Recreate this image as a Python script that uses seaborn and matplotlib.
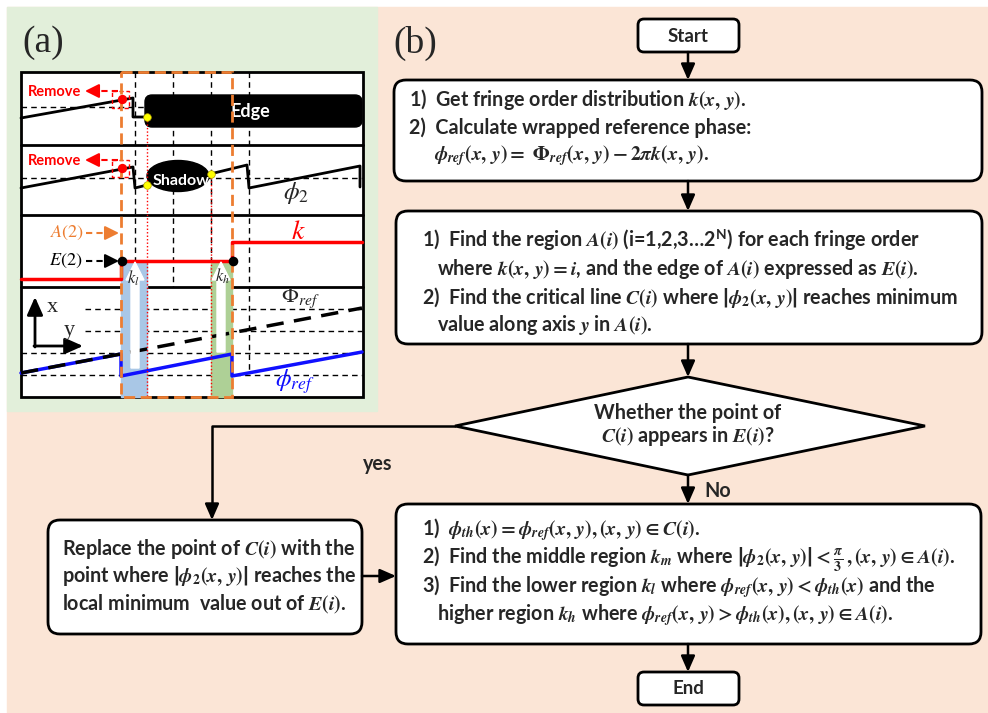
import numpy as np
import pandas as pd
import matplotlib.pyplot as plt
import matplotlib.patches as mpatches
import seaborn as sns

# ---------------- panel (a): schematic signals (pixel units of the figure) ----------------
frame_x = [21, 363]
frame_y = [72, 397]
row_sep = [145, 215, 287]
grid_cols = [135, 173, 211]
grid_col_long = 249
region_a2 = [121, 232]          # orange dashed A(2) region
crit_lines = [(147, 117), (211, 174)]   # red dotted lines C(i) and their start

# row 1: phase hitting the edge
edge_x = [21, 133, 133, 147]
edge_y = [118, 98, 117, 117]
# row 2: phase around the shadow
shadow_l_x = [21, 133, 135, 147]
shadow_l_y = [188, 167, 188, 185]
shadow_r_x = [210, 247, 249, 360, 360]
shadow_r_y = [174, 165, 188, 166, 187]
# row 3: fringe order k
k_x = [21, 121, 121, 232, 232, 362]
k_y = [279, 279, 261, 261, 242, 242]
# row 4: absolute and wrapped reference phase
Phi_x = [21, 362]
Phi_y = [373, 308]
phi_x = [21, 121, 121, 232, 232, 362]
phi_y = [373, 354, 376, 354, 376, 352]
row4_dash_y = [309, 331, 353, 375]
row4_dash_x0 = [85, 85, 21, 21]

# ---------------- panel (b): flowchart text ----------------
box1_lines = [r"1)  Get fringe order distribution $k(x,\,y)$.",
              r"2)  Calculate wrapped reference phase:",
              r"$\phi_{ref}(x,\,y) =\ \Phi_{ref}(x,\,y) - 2\pi k(x,\,y)$."]
box2_lines = [r"1)  Find the region $A(i)$ (i=1,2,3…2$^{\mathsf{N}}$) for each fringe order",
              r"where $k(x,\,y) = i$, and the edge of $A(i)$ expressed as $E(i)$.",
              r"2)  Find the critical line $C(i)$ where $\left|\phi_2(x,\,y)\right|$ reaches minimum",
              r"value along axis $y$ in $A(i)$."]
box3_lines = [r"1)  $\phi_{th}(x) = \phi_{ref}(x,\,y), (x,\,y) \in C(i)$.",
              r"2)  Find the middle region $k_m$ where $\left|\phi_2(x,\,y)\right| < \frac{\pi}{3}\,, (x,\,y) \in A(i)$.",
              r"3)  Find the lower region $k_l$ where $\phi_{ref}(x,\,y) < \phi_{th}(x)$ and the",
              r"higher region $k_h$ where $\phi_{ref}(x,\,y) > \phi_{th}(x), (x,\,y) \in A(i)$."]
left_lines = [r"Replace the point of $C(i)$ with the",
              r"point where $\left|\phi_2(x,\,y)\right|$ reaches the",
              r"local minimum  value out of $E(i)$."]
diamond_lines = ["Whether the point of", r"$C(i)$ appears in $E(i)$?"]

sns.set_theme(style="white")
plt.rcParams['font.family'] = ['Lato', 'DejaVu Sans']
plt.rcParams['mathtext.fontset'] = 'custom'
plt.rcParams['mathtext.it'] = 'STIXGeneral:italic:bold'
plt.rcParams['mathtext.rm'] = 'STIXGeneral:bold'
plt.rcParams['mathtext.bf'] = 'STIXGeneral:bold'
plt.rcParams['mathtext.sf'] = 'Lato:bold'

GREEN_BG = '#e2efda'
PEACH_BG = '#fbe5d6'
ORANGE = '#ed7d31'
RED = '#ff0000'
BLUE = '#1010ff'

fig = plt.figure(figsize=(9.88, 7.13), dpi=100)
ax = fig.add_axes([0, 0, 1, 1])
ax.set_xlim(0, 988)
ax.set_ylim(713, 0)
ax.axis('off')

ax.add_patch(mpatches.Rectangle((7, 7), 981, 706, color=PEACH_BG, zorder=0))
ax.add_patch(mpatches.Rectangle((7, 7), 370, 404, color=GREEN_BG, zorder=0))

# ======== panel (a) ========
ax.text(22, 43, "(a)", family='Liberation Serif', fontsize=27, va='center', ha='left')
ax.add_patch(mpatches.Rectangle((frame_x[0], frame_y[0]), frame_x[1] - frame_x[0],
                                frame_y[1] - frame_y[0], facecolor='white',
                                edgecolor='black', lw=2, zorder=1))
for ys in row_sep:
    ax.plot(frame_x, [ys, ys], color='black', lw=2, zorder=2)

dash_kw = dict(color='black', lw=1, ls=(0, (4, 3)), zorder=2)
for xc in grid_cols:
    ax.plot([xc, xc], [frame_y[0], row_sep[2]], **dash_kw)
ax.plot([grid_col_long, grid_col_long], [frame_y[0], 372], **dash_kw)
ax.plot([21, 145], [107, 107], **dash_kw)
ax.plot([21, 362], [178, 178], **dash_kw)
for yd, x0 in zip(row4_dash_y, row4_dash_x0):
    ax.plot([x0, 362], [yd, yd], **dash_kw)

# k_l / k_h regions
ax.add_patch(mpatches.Rectangle((121, 262), 26, 135, color='#a9c7e6', zorder=3))
ax.add_patch(mpatches.Rectangle((211, 262), 21, 135, color='#aed096', zorder=3))

# signals
sig_kw = dict(ax=ax, sort=False, estimator=None, legend=False)
sns.lineplot(x=edge_x, y=edge_y, color='black', lw=2, zorder=5, **sig_kw)
sns.lineplot(x=shadow_l_x, y=shadow_l_y, color='black', lw=2, zorder=5, **sig_kw)
sns.lineplot(x=shadow_r_x, y=shadow_r_y, color='black', lw=2, zorder=5, **sig_kw)
sns.lineplot(x=k_x, y=k_y, color=RED, lw=2.5, zorder=5, **sig_kw)
sns.lineplot(x=phi_x, y=phi_y, color=BLUE, lw=2.5, zorder=5, **sig_kw)
sns.lineplot(x=Phi_x, y=Phi_y, color='black', lw=2.5, linestyle=(0, (5, 3)), zorder=6, **sig_kw)

# Edge block and shadow blob
ax.add_patch(mpatches.FancyBboxPatch((145, 95), 217, 32,
                                     boxstyle="round,pad=0,rounding_size=7",
                                     color='black', zorder=4))
ax.text(250, 112, "Edge", color='white', fontsize=13, fontweight='bold',
        ha='center', va='center', zorder=7)
ax.add_patch(mpatches.Ellipse((178, 176), 62, 31, color='black', zorder=4))
ax.text(181, 181, "Shadow", color='white', fontsize=11.5, fontweight='bold',
        ha='center', va='center', zorder=7)

# red dotted critical lines
for xc, y0 in crit_lines:
    ax.plot([xc, xc], [y0, frame_y[1]], color=RED, lw=1, ls=(0, (1, 1.5)), zorder=6)

# orange A(2) region
ax.add_patch(mpatches.Rectangle((region_a2[0], frame_y[0]), region_a2[1] - region_a2[0],
                                frame_y[1] - frame_y[0], fill=False, edgecolor=ORANGE,
                                lw=2, ls=(0, (4, 2)), zorder=8))

# Remove markers
for yc, yt in [(99, 92), (168, 161)]:
    ax.add_patch(mpatches.Rectangle((112, yc - 8), 17, 17, fill=False, edgecolor=RED,
                                    lw=1, ls=(0, (3, 2)), zorder=7))
    ax.plot([118, 95], [yt - 1, yt - 1], color=RED, lw=1.5, ls=(0, (3, 2)), zorder=7)
    ax.annotate('', xy=(85, yt - 1), xytext=(97, yt - 1),
                arrowprops=dict(arrowstyle='-|>,head_length=0.7,head_width=0.35',
                                color=RED, lw=1.5, shrinkA=0, shrinkB=0), zorder=7)
    ax.text(28, yt, "Remove", color=RED, fontsize=10.5, fontweight='bold',
            ha='left', va='center', zorder=7)
ax.scatter([122, 122], [99, 168], s=45, color=RED, zorder=9, linewidths=0)
ax.scatter([147, 147, 211], [117, 185, 174], s=30, color='#ffff00',
           edgecolors='#b0a000', linewidths=0.5, zorder=9)

ax.text(296, 193, r"$\phi_2$", fontsize=18, math_fontfamily='stix', ha='center', va='center', zorder=7)

# A(2), E(2) annotations
ax.text(67, 233, r"$A(2)$", color=ORANGE, fontsize=13, math_fontfamily='stix',
        ha='center', va='center', zorder=7)
ax.plot([86, 110], [233, 233], color=ORANGE, lw=1.5, ls=(0, (3, 2)), zorder=7)
ax.annotate('', xy=(119, 233), xytext=(108, 233),
            arrowprops=dict(arrowstyle='-|>,head_length=0.7,head_width=0.35',
                            color=ORANGE, lw=1.5, shrinkA=0, shrinkB=0), zorder=7)
ax.text(66, 261, r"$E(2)$", color='black', fontsize=13, math_fontfamily='stix',
        ha='center', va='center', zorder=7)
ax.plot([86, 110], [261, 261], color='black', lw=1.5, ls=(0, (3, 2)), zorder=7)
ax.annotate('', xy=(119, 261), xytext=(108, 261),
            arrowprops=dict(arrowstyle='-|>,head_length=0.7,head_width=0.35',
                            color='black', lw=1.5, shrinkA=0, shrinkB=0), zorder=7)
ax.scatter([122, 233], [261, 261], s=35, color='black', zorder=9)
ax.text(298, 231, r"$k$", color=RED, fontsize=20, math_fontfamily='stix',
        ha='center', va='center', zorder=7)

# white arrows k_l and k_h
ax.add_patch(mpatches.FancyArrow(135, 368, 0, -106, width=8, head_width=18, head_length=18,
                                 length_includes_head=True, color='white', zorder=7))
ax.add_patch(mpatches.FancyArrow(221, 352, 0, -90, width=8, head_width=18, head_length=18,
                                 length_includes_head=True, color='white', zorder=7))
ax.text(133, 278, r"$k_l$", fontsize=12, math_fontfamily='stix', ha='center', va='center', zorder=8)
ax.text(222, 276, r"$k_h$", fontsize=12, math_fontfamily='stix', ha='center', va='center', zorder=8)

# x-y axes glyph
ax.annotate('', xy=(35, 297), xytext=(35, 347),
            arrowprops=dict(arrowstyle='-|>,head_length=0.9,head_width=0.4',
                            color='black', lw=2, shrinkA=0, shrinkB=0), zorder=7)
ax.annotate('', xy=(83, 346), xytext=(34, 346),
            arrowprops=dict(arrowstyle='-|>,head_length=0.9,head_width=0.4',
                            color='black', lw=2, shrinkA=0, shrinkB=0), zorder=7)
ax.text(52, 308, "x", family='Liberation Serif', fontsize=16, ha='center', va='center', zorder=7)
ax.text(69, 330, "y", family='Liberation Serif', fontsize=16, ha='center', va='center', zorder=7)
ax.text(300, 298, r"$\Phi_{ref}$", fontsize=16, math_fontfamily='stix', ha='center', va='center', zorder=7)
ax.text(295, 382, r"$\phi_{ref}$", color=BLUE, fontsize=18, math_fontfamily='stix',
        ha='center', va='center', zorder=7)

# ======== panel (b) ========
ax.text(393, 43, "(b)", family='Liberation Serif', fontsize=27, va='center', ha='left')

FS = 14.2


def rbox(x0, y0, x1, y1, r=12):
    ax.add_patch(mpatches.FancyBboxPatch((x0, y0), x1 - x0, y1 - y0,
                                         boxstyle=f"round,pad=0,rounding_size={r}",
                                         facecolor='white', edgecolor='black', lw=2, zorder=3))


def arrow(x0, y0, x1, y1):
    ax.annotate('', xy=(x1, y1), xytext=(x0, y0),
                arrowprops=dict(arrowstyle='-|>,head_length=0.8,head_width=0.35',
                                color='black', lw=1.8, shrinkA=0, shrinkB=0), zorder=4)


def lines(xs, ys, texts, ha='left'):
    for x, y, s in zip(xs, ys, texts):
        ax.text(x, y, s, fontsize=FS, fontweight='bold', ha=ha, va='center',
                math_fontfamily='custom', zorder=5)


rbox(638, 19, 739, 52, r=6)
ax.text(688, 36, "Start", fontsize=13.5, fontweight='bold', ha='center', va='center', zorder=5)
arrow(688, 52, 688, 80)

rbox(394, 80, 982, 181)
lines([409, 409, 434], [100, 128, 156], box1_lines)
arrow(688, 181, 688, 211)

rbox(396, 211, 982, 344)
lines([422, 437, 422, 437], [240, 269, 297, 325], box2_lines)
arrow(688, 344, 688, 377)

ax.add_patch(mpatches.Polygon([(455, 426), (688, 377), (925, 426), (688, 475)],
                              closed=True, facecolor='white', edgecolor='black', lw=2, zorder=3))
lines([688, 688], [413, 436], diamond_lines, ha='center')
arrow(688, 475, 688, 504)
ax.text(704, 491, "No", fontsize=FS, fontweight='bold', ha='left', va='center', zorder=5)

ax.plot([455, 212, 212], [426, 426, 512], color='black', lw=1.8, zorder=4)
arrow(212, 505, 212, 520)
ax.text(378, 464, "yes", fontsize=FS, fontweight='bold', ha='center', va='center', zorder=5)

rbox(48, 520, 362, 634)
lines([62, 62, 62], [549, 576, 604], left_lines)
arrow(362, 576, 396, 576)

rbox(396, 504, 981, 644)
lines([422, 422, 422, 437], [530, 559, 587, 615], box3_lines)
arrow(688, 644, 688, 672)

rbox(638, 672, 739, 705, r=6)
ax.text(688, 689, "End", fontsize=13.5, fontweight='bold', ha='center', va='center', zorder=5)

fig.savefig("out.png", dpi=100, facecolor='white')
